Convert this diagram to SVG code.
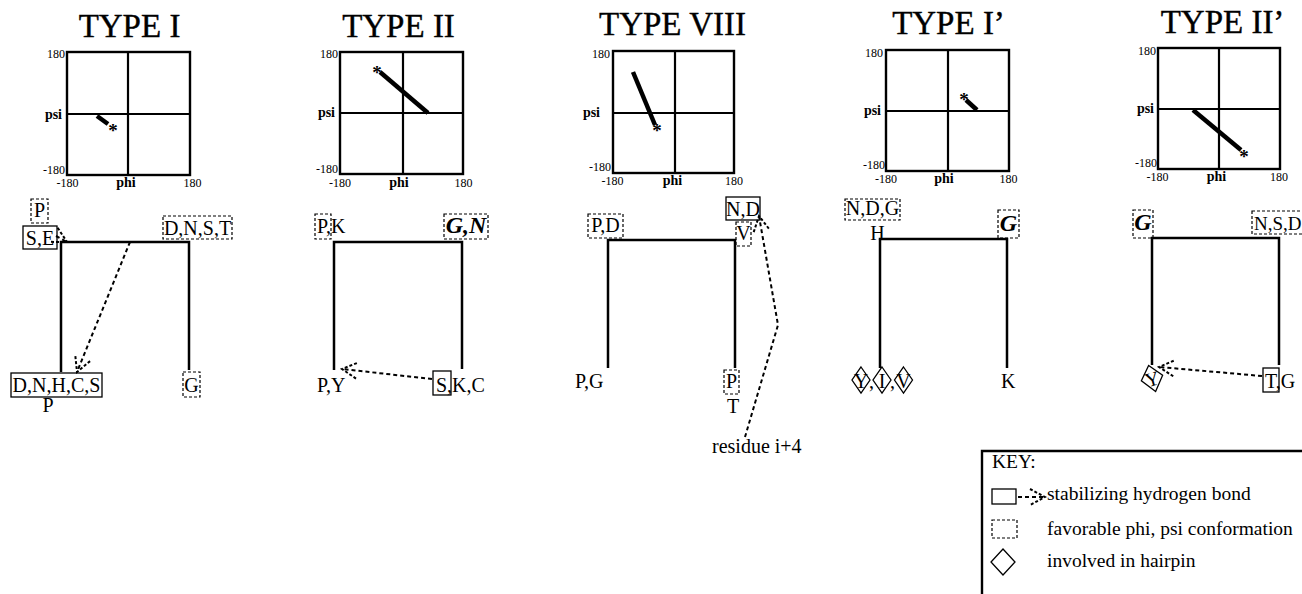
<svg xmlns="http://www.w3.org/2000/svg" width="1302" height="594" viewBox="0 0 1302 594">
  <style>
    text { font-family: "Liberation Serif", "Times New Roman", serif; fill: #000; }
    .ttl { font-size: 33px; text-anchor: middle; stroke: #000; stroke-width: 0.4; }
    .axe { font-size: 12px; text-anchor: end; }
    .axm { font-size: 12px; text-anchor: middle; }
    .lbe { font-size: 14px; font-weight: bold; text-anchor: end; }
    .lbm { font-size: 14px; font-weight: bold; text-anchor: middle; }
    .star { font-size: 19px; font-weight: bold; text-anchor: middle; }
    .res { font-size: 20px; }
    .resm { font-size: 20px; text-anchor: middle; }
    .bi { font-size: 24px; font-weight: bold; font-style: italic; text-anchor: middle; }
    .key { font-size: 19.5px; }
    .frame { fill: none; stroke: #000; stroke-width: 2.4; }
    .grid { stroke: #000; stroke-width: 2.2; }
    .data { stroke: #000; stroke-width: 4.5; }
    .turn { fill: none; stroke: #000; stroke-width: 2.5; }
    .hb { fill: none; stroke: #000; stroke-width: 2; stroke-dasharray: 4 3; marker-end: url(#hb-head); }
    .sbox { fill: none; stroke: #000; stroke-width: 1.3; }
    .dbox { fill: none; stroke: #000; stroke-width: 1.2; stroke-dasharray: 3 2; }
    .dia { fill: none; stroke: #000; stroke-width: 1.3; }
  </style>
  <defs>
    <marker id="hb-head" markerUnits="userSpaceOnUse" viewBox="-18 -10 20 20" markerWidth="20" markerHeight="20" refX="0" refY="0" orient="auto">
      <path d="M-15,-8 L0,0 L-15,8" fill="none" stroke="#000" stroke-width="2" stroke-dasharray="3 2"/>
    </marker>
  </defs>

  <!-- ===== Type I ===== -->
  <g id="type-1">
    <text class="ttl" x="129.5" y="37">TYPE I</text>
    <g id="type-1-plot">
      <rect class="frame" x="67" y="52" width="123" height="123"/>
      <line class="grid" x1="128" y1="52" x2="128" y2="175"/>
      <line class="grid" x1="67" y1="114" x2="190" y2="114"/>
      <line class="data" x1="97" y1="116" x2="108" y2="124"/>
      <text class="star" x="113" y="137">*</text>
      <text class="axe" x="65" y="58">180</text>
      <text class="lbe" x="62" y="119">psi</text>
      <text class="axe" x="65" y="174">-180</text>
      <text class="axm" x="67.5" y="187">-180</text>
      <text class="lbm" x="126" y="187">phi</text>
      <text class="axm" x="192.5" y="187">180</text>
    </g>
    <path class="turn" d="M61,372 V242 H189 V370"/>
    <g id="t1-p-top"><rect class="dbox" x="31" y="199" width="17" height="24"/><text class="resm" x="39.5" y="217">P</text></g>
    <g id="t1-se"><rect class="sbox" x="23" y="226" width="34" height="23"/><text class="resm" x="40" y="245">S,E</text></g>
    <g id="t1-dnst"><rect class="dbox" x="163" y="216" width="69" height="23"/><text class="resm" x="197.5" y="235">D,N,S,T</text></g>
    <g id="t1-dnhcs"><rect class="sbox" x="11" y="373" width="91" height="24"/><text class="resm" x="56.5" y="392">D,N,H,C,S</text></g>
    <g id="t1-p-bottom"><text class="resm" x="48" y="412">P</text></g>
    <g id="t1-g"><rect class="dbox" x="183" y="372" width="17" height="25"/><text class="resm" x="191.5" y="392">G</text></g>
  </g>

  <!-- ===== Type II ===== -->
  <g id="type-2">
    <text class="ttl" x="398.5" y="37">TYPE II</text>
    <g id="type-2-plot">
      <rect class="frame" x="340" y="52" width="123" height="122"/>
      <line class="grid" x1="403" y1="52" x2="403" y2="174"/>
      <line class="grid" x1="340" y1="113" x2="463" y2="113"/>
      <line class="data" x1="380" y1="72" x2="428" y2="113"/>
      <text class="star" x="377" y="79">*</text>
      <text class="axe" x="338" y="58">180</text>
      <text class="lbe" x="335" y="117">psi</text>
      <text class="axe" x="338" y="173">-180</text>
      <text class="axm" x="340" y="187">-180</text>
      <text class="lbm" x="399" y="187">phi</text>
      <text class="axm" x="463.5" y="187">180</text>
    </g>
    <path class="turn" d="M334,370 V242 H462 V369"/>
    <g id="t2-pk"><rect class="dbox" x="315" y="214" width="16" height="25"/><text class="res" x="317" y="233">P,K</text></g>
    <g id="t2-gn"><rect class="dbox" x="444" y="214" width="44" height="25"/><text class="bi" x="466" y="233">G,N</text></g>
    <g id="t2-py"><text class="res" x="317" y="392">P,Y</text></g>
    <g id="t2-skc"><rect class="sbox" x="433" y="371" width="18" height="24"/><text class="res" x="436" y="392">S,K,C</text></g>
  </g>

  <!-- ===== Type VIII ===== -->
  <g id="type-8">
    <text class="ttl" x="672.5" y="35">TYPE VIII</text>
    <g id="type-8-plot">
      <rect class="frame" x="613" y="51" width="121" height="122"/>
      <line class="grid" x1="675" y1="51" x2="675" y2="173"/>
      <line class="grid" x1="613" y1="113" x2="734" y2="113"/>
      <line class="data" x1="633" y1="72" x2="655" y2="125"/>
      <text class="star" x="657" y="137">*</text>
      <text class="axe" x="610" y="58">180</text>
      <text class="lbe" x="600" y="117">psi</text>
      <text class="axe" x="611" y="171">-180</text>
      <text class="axm" x="612.5" y="185">-180</text>
      <text class="lbm" x="672.5" y="185">phi</text>
      <text class="axm" x="734" y="185">180</text>
    </g>
    <path class="turn" d="M608,368 V240 H735 V368"/>
    <g id="t8-pd"><rect class="dbox" x="588" y="214" width="35" height="24"/><text class="resm" x="605.5" y="232">P,D</text></g>
    <g id="t8-nd"><rect class="sbox" x="726" y="197" width="34" height="23"/><text class="resm" x="743" y="216">N,D</text></g>
    <g id="t8-v"><rect class="dbox" x="736" y="222" width="15" height="24"/><text class="resm" x="743.5" y="240">V</text></g>
    <g id="t8-pg"><text class="res" x="575" y="388">P,G</text></g>
    <g id="t8-p"><rect class="dbox" x="724" y="370" width="15" height="24"/><text class="resm" x="731.5" y="388">P</text></g>
    <g id="t8-t"><text class="resm" x="733" y="413">T</text></g>
    <g id="t8-i4"><text class="res" x="712" y="453">residue i+4</text></g>
  </g>

  <!-- ===== Type I' ===== -->
  <g id="type-1p">
    <text class="ttl" x="948.5" y="34">TYPE I’</text>
    <g id="type-1p-plot">
      <rect class="frame" x="886" y="50" width="123" height="121"/>
      <line class="grid" x1="948" y1="50" x2="948" y2="171"/>
      <line class="grid" x1="886" y1="111" x2="1009" y2="111"/>
      <line class="data" x1="966" y1="100" x2="977" y2="110"/>
      <text class="star" x="964" y="106">*</text>
      <text class="axe" x="883" y="57">180</text>
      <text class="lbe" x="881" y="115">psi</text>
      <text class="axe" x="885" y="169">-180</text>
      <text class="axm" x="886" y="183">-180</text>
      <text class="lbm" x="944" y="183">phi</text>
      <text class="axm" x="1008.5" y="183">180</text>
    </g>
    <path class="turn" d="M880,368 V239 H1007 V368"/>
    <g id="t1p-ndg"><rect class="dbox" x="845" y="199" width="55" height="21"/><text class="resm" x="872.5" y="215">N,D,G</text></g>
    <g id="t1p-h"><text class="resm" x="877.5" y="240">H</text></g>
    <g id="t1p-g"><rect class="dbox" x="998" y="210" width="21" height="28"/><text class="bi" x="1008.5" y="231">G</text></g>
    <g id="t1p-yiv">
      <path class="dia" d="M861,367 L870,380 L861,393 L852,380 Z"/>
      <path class="dia" d="M882,367 L891,380 L882,393 L873,380 Z"/>
      <path class="dia" d="M903.5,367 L912.5,380 L903.5,393 L894.5,380 Z"/>
      <text class="resm" x="861" y="388">Y</text>
      <text class="resm" x="871.5" y="388">,</text>
      <text class="resm" x="882" y="388">I</text>
      <text class="resm" x="892.5" y="388">,</text>
      <text class="resm" x="903.5" y="388">V</text>
    </g>
    <g id="t1p-k"><text class="res" x="1001" y="388">K</text></g>
  </g>

  <!-- ===== Type II' ===== -->
  <g id="type-2p">
    <text class="ttl" x="1222.5" y="33">TYPE II’</text>
    <g id="type-2p-plot">
      <rect class="frame" x="1158" y="48" width="122" height="121"/>
      <line class="grid" x1="1219" y1="48" x2="1219" y2="169"/>
      <line class="grid" x1="1158" y1="109" x2="1280" y2="109"/>
      <line class="data" x1="1193" y1="110" x2="1241" y2="150"/>
      <text class="star" x="1244" y="163">*</text>
      <text class="axe" x="1156" y="55">180</text>
      <text class="lbe" x="1154" y="113">psi</text>
      <text class="axe" x="1157" y="167">-180</text>
      <text class="axm" x="1157.5" y="181">-180</text>
      <text class="lbm" x="1216.5" y="181">phi</text>
      <text class="axm" x="1279" y="181">180</text>
    </g>
    <path class="turn" d="M1152,365 V238 H1279 V365"/>
    <g id="t2p-g"><rect class="dbox" x="1133" y="210" width="20" height="28"/><text class="bi" x="1143" y="230">G</text></g>
    <g id="t2p-nsd"><rect class="dbox" x="1252" y="211" width="56" height="23"/><text class="res" x="1254" y="230" style="font-size:19px">N,S,D</text></g>
    <g id="t2p-y" transform="rotate(-15 1152 378)">
      <path class="dia" d="M1152,365 L1163,378 L1152,392 L1141,378 Z"/>
      <text class="resm" x="1152" y="386">Y</text>
    </g>
    <g id="t2p-tg"><rect class="sbox" x="1263" y="368" width="16" height="24"/><text class="res" x="1265" y="388">T,G</text></g>
  </g>

  <!-- hydrogen-bond connectors -->
  <g id="connectors">
    <path class="hb" d="M56,236 L67,242"/>
    <path class="hb" d="M130,242 L77,372"/>
    <path class="hb" d="M432,379 L342,369"/>
    <path class="hb" d="M745,437 L778,325 L759,216"/>
    <path class="hb" d="M1262,376 L1159,367"/>
  </g>

  <!-- ===== Key ===== -->
  <g id="key">
    <path class="frame" d="M982,594 V451 H1302"/>
    <text class="key" x="992" y="468">KEY:</text>
    <rect class="sbox" x="992" y="489" width="24" height="15"/>
    <path class="hb" d="M1018,497 L1045,497"/>
    <text class="key" x="1047" y="500">stabilizing hydrogen bond</text>
    <rect class="dbox" x="992" y="520" width="25" height="18"/>
    <text class="key" x="1047" y="535">favorable phi, psi conformation</text>
    <path class="dia" d="M1003,549 L1015,562 L1003,575 L991,562 Z"/>
    <text class="key" x="1047" y="567">involved in hairpin</text>
  </g>
</svg>
